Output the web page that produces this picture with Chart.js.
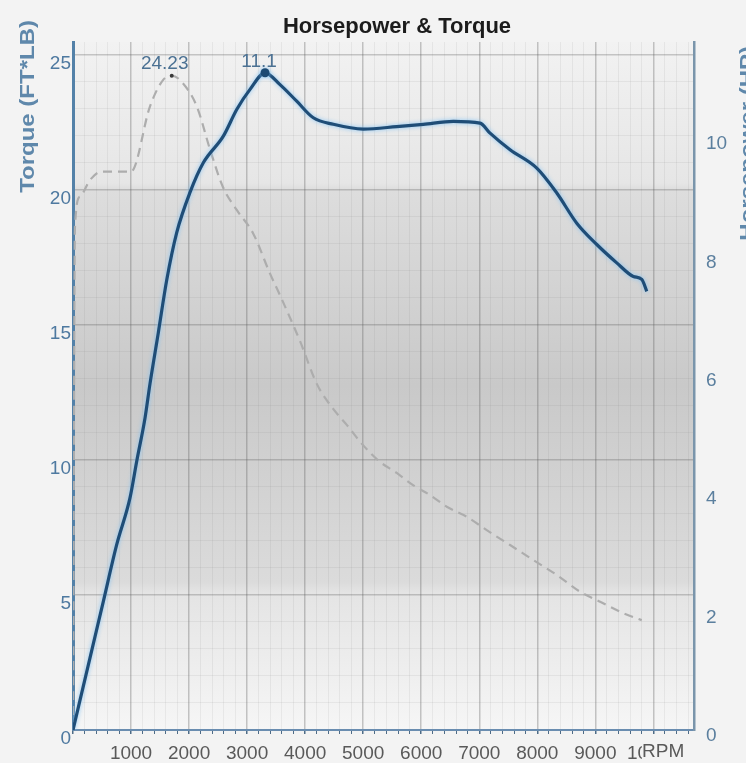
<!DOCTYPE html>
<html>
<head>
<meta charset="utf-8">
<script src="https://cdn.jsdelivr.net/npm/chart.js@4.4.0/dist/chart.umd.min.js"></script>
<style>
  html, body { margin: 0; padding: 0; background: #f3f3f3; }
  #wrap { width: 746px; height: 763px; }
</style>
</head>
<body>
<div id="wrap"><canvas id="dyno" width="746" height="763"></canvas></div>
<script>
// values
const hpRpm = [0, 293, 522, 753, 982, 1098, 1241, 1327, 1470, 1615, 1787, 2016, 2245, 2590, 2821, 3050, 3309,
  3567, 3855, 4141, 4486, 5003, 5578, 6036, 6553, 7013, 7186, 7531, 7991, 8336, 8680, 9025, 9369, 9655, 9800, 9886]
const hpValues = [0, 1.22, 2.17, 3.13, 3.92, 4.54, 5.27, 5.85, 6.71, 7.6, 8.4, 9.08, 9.58, 10.03, 10.48, 10.82, 11.1,
  10.9, 10.62, 10.34, 10.23, 10.15, 10.19, 10.23, 10.28, 10.25, 10.08, 9.8, 9.49, 9.07, 8.56, 8.2, 7.89, 7.66, 7.61, 7.41]

const torqueRpm = [0, 34, 120, 293, 495, 1000, 1327, 1551, 1701, 1844, 2132, 2361, 2585, 2821, 3102, 3395, 3567,
  3912, 4205, 4480, 4717, 4997, 5290, 5578, 5859, 6152, 6440, 6784, 7129, 7531, 7927, 8336, 8737, 9082, 9478, 9800]
const torqueValues = [0, 18.64, 19.75, 20.37, 20.68, 20.68, 23.1, 24.07, 24.23, 24.07, 23.1, 21.5, 20.1, 19.26, 18.4, 16.9, 16.1,
  14.4, 12.8, 11.9, 11.3, 10.55, 9.93, 9.52, 9.07, 8.7, 8.27, 7.9, 7.4, 6.85, 6.3, 5.74, 5.12, 4.75, 4.33, 4.07]

const rpmLabels = [1000, 2000, 3000, 4000, 5000, 6000, 7000, 8000, 9000, 10000]
const torqueTicks = [0, 5, 10, 15, 20, 25]

Chart.defaults.font.family = "'Liberation Sans', Arial, sans-serif"
Chart.defaults.font.size = 19

const BG = '#f3f3f3'
const STEEL = '#5381a8'

function toPoints(xs, ys) {
  return xs.map((x, i) => ({ x: x, y: ys[i] }))
}

function peakIndex(arr) {
  return arr.indexOf(Math.max(...arr))
}

const hpPeak = peakIndex(hpValues)
const torquePeak = peakIndex(torqueValues)

// rotated axis title, stretched along its length like the scanned sheet
function sideTitle(ctx, text, x, y) {
  ctx.save()
  ctx.translate(x, y)
  ctx.rotate(-Math.PI / 2)
  ctx.scale(1.2, 1)
  ctx.fillText(text, 0, 0)
  ctx.restore()
}

const dynoSheet = {
  id: 'dynoSheet',
  beforeDraw(chart) {
    const { ctx, chartArea: a } = chart
    ctx.save()
    ctx.fillStyle = BG
    ctx.fillRect(0, 0, chart.width, chart.height)
    const g = ctx.createLinearGradient(0, a.top, 0, a.bottom)
    g.addColorStop(0, '#f2f2f2')
    g.addColorStop(0.205, '#e6e6e6')
    g.addColorStop(0.215, '#dddddd')
    g.addColorStop(0.5, '#c9c9c9')
    g.addColorStop(0.785, '#dbdbdb')
    g.addColorStop(0.8, '#e4e4e4')
    g.addColorStop(1, '#f6f6f6')
    ctx.fillStyle = g
    ctx.fillRect(a.left, a.top, a.right - a.left, a.bottom - a.top)
    ctx.restore()
  },
  beforeDatasetDraw(chart, args) {
    if (args.index === 0) {
      chart.ctx.save()
      chart.ctx.shadowColor = 'rgba(130,195,245,0.95)'
      chart.ctx.shadowBlur = 4
    }
  },
  afterDatasetDraw(chart, args) {
    if (args.index === 0) chart.ctx.restore()
  },
  afterDraw(chart) {
    const ctx = chart.ctx
    ctx.save()

    // title
    ctx.fillStyle = '#1c1c1c'
    ctx.font = "bold 22px 'Liberation Sans', Arial, sans-serif"
    ctx.textAlign = 'center'
    ctx.textBaseline = 'middle'
    ctx.fillText('Horsepower & Torque', 397, 27)

    // peak labels
    ctx.fillStyle = '#4b7193'
    ctx.font = "19px 'Liberation Sans', Arial, sans-serif"
    const hpPt = chart.getDatasetMeta(0).data[hpPeak]
    const tqPt = chart.getDatasetMeta(1).data[torquePeak]
    ctx.fillText(String(hpValues[hpPeak]), hpPt.x - 6, hpPt.y - 11)
    ctx.fillText(String(torqueValues[torquePeak]), tqPt.x - 7, tqPt.y - 12)

    // axis titles, both read bottom to top
    ctx.fillStyle = '#5f88ab'
    ctx.font = "bold 20px 'Liberation Sans', Arial, sans-serif"
    ctx.textAlign = 'right'
    ctx.textBaseline = 'alphabetic'
    sideTitle(ctx, 'Torque (FT*LB)', 34, 20)
    sideTitle(ctx, 'Horsepower (HP)', 754, 46)

    // RPM unit sits over the last tick label
    ctx.fillStyle = BG
    ctx.fillRect(642, 737, 50, 26)
    ctx.fillStyle = '#5a5a5a'
    ctx.font = "19px 'Liberation Sans', Arial, sans-serif"
    ctx.textAlign = 'left'
    ctx.textBaseline = 'middle'
    ctx.fillText('RPM', 642, 752)
    ctx.restore()
  }
}

new Chart(document.getElementById('dyno'), {
  type: 'line',
  data: {
    datasets: [{
      label: 'Horsepower',
      data: toPoints(hpRpm, hpValues),
      yAxisID: 'yHp',
      borderColor: '#1f4d77',
      borderWidth: 3.2,
      cubicInterpolationMode: 'monotone',
      pointRadius: ctx => ctx.dataIndex === hpPeak ? 4.5 : 0,
      pointBackgroundColor: '#1d4a73',
      pointBorderWidth: 0
    }, {
      label: 'Torque',
      data: toPoints(torqueRpm, torqueValues),
      yAxisID: 'yTorque',
      borderColor: '#adadad',
      borderWidth: 2.2,
      borderDash: [9, 6],
      cubicInterpolationMode: 'monotone',
      pointRadius: ctx => ctx.dataIndex === torquePeak ? 2 : 0,
      pointBackgroundColor: '#3a3a3a',
      pointBorderWidth: 0
    }]
  },
  options: {
    responsive: false,
    animation: false,
    events: [],
    layout: { padding: { top: 42, left: 0, right: 0, bottom: 0 } },
    plugins: { legend: { display: false }, tooltip: { enabled: false }, title: { display: false } },
    scales: {
      x: {
        type: 'linear',
        min: 0,
        max: 10700,
        afterFit: s => { s.height = 33 },
        ticks: {
          stepSize: 200,
          autoSkip: false,
          includeBounds: false,
          maxRotation: 0,
          padding: 8,
          color: '#595959',
          callback: v => rpmLabels.includes(v) ? String(v) : ''
        },
        grid: {
          color: ctx => ctx.tick && ctx.tick.value % 1000 === 0 ? 'rgba(90,90,90,0.33)' : 'rgba(120,120,120,0.1)',
          lineWidth: ctx => ctx.tick && ctx.tick.value % 1000 === 0 ? 1.5 : 1,
          tickLength: 4,
          tickColor: '#4f6c87'
        },
        border: { color: '#6a8db0', width: 2 }
      },
      yTorque: {
        position: 'left',
        min: 0,
        max: 25.48,
        afterFit: s => { s.width = 73 },
        ticks: {
          stepSize: 1,
          autoSkip: false,
          includeBounds: false,
          labelOffset: 9,
          padding: 2,
          color: '#4e79a0',
          callback: v => torqueTicks.includes(v) ? String(v) : ''
        },
        grid: {
          color: ctx => ctx.tick && ctx.tick.value % 5 === 0 ? 'rgba(90,90,90,0.3)' : 'rgba(120,120,120,0.1)',
          lineWidth: ctx => ctx.tick && ctx.tick.value % 5 === 0 ? 1.5 : 1,
          drawTicks: false
        },
        border: { color: STEEL, width: 3 }
      },
      yHp: {
        position: 'right',
        min: 0,
        max: 11.62,
        afterFit: s => { s.width = 52 },
        ticks: {
          stepSize: 2,
          includeBounds: false,
          labelOffset: 6,
          padding: 12,
          color: '#5b7f9e'
        },
        grid: { display: false, drawTicks: false },
        border: { color: '#7a95ab', width: 2.5 }
      }
    }
  },
  plugins: [dynoSheet]
})
</script>
</body>
</html>
